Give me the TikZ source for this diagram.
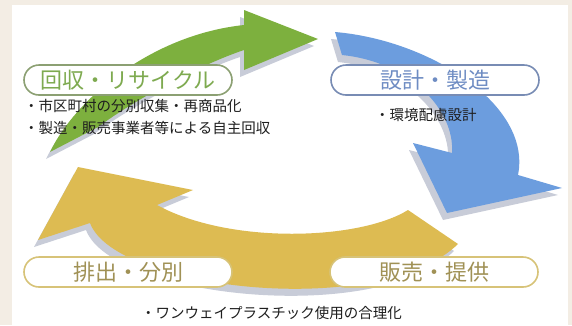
\documentclass[tikz,border=0pt]{standalone}
\usepackage{fontspec}
\newfontfamily\jp{Noto Sans CJK JP}
\definecolor{beige}{RGB}{243,237,228}
\definecolor{shd}{RGB}{200,204,216}
\definecolor{grn}{RGB}{125,176,62}
\definecolor{blu}{RGB}{108,157,222}
\definecolor{ylw}{RGB}{221,187,82}
\definecolor{txtg}{RGB}{126,170,80}
\definecolor{boxg}{RGB}{140,160,115}
\definecolor{txtb}{RGB}{110,140,195}
\definecolor{boxb}{RGB}{120,140,180}
\definecolor{txty}{RGB}{160,145,85}
\definecolor{boxy}{RGB}{215,195,120}
\definecolor{bodyc}{RGB}{30,30,30}
\tikzset{
 greenarrow/.style={insert path={
   (50,152) .. controls (75,100) and (150,35) .. (244,25)
   -- (244,10) -- (318,39) -- (244,70) -- (244,50)
   .. controls (205,63) and (140,96) .. (98,127) -- cycle}},
 bluearrow/.style={insert path={
   (335,32) .. controls (430,40) and (532,105) .. (518,175)
   -- (562,188) -- (447,213) -- (413,143) -- (452,153)
   .. controls (455,110) and (410,62) .. (342,55) -- cycle}},
 yellowarrow/.style={insert path={
   (408,210) .. controls (360,240) and (230,245) .. (157,205)
   -- (193,190) -- (78,167) -- (38,240) -- (90,223)
   .. controls (115,290) and (380,320) .. (458,244) -- cycle}},
 titlebox/.style={draw=#1, line width=1.6pt, fill=white, rounded corners=15pt,
   minimum width=208pt, minimum height=30pt, inner sep=0pt,
   font=\jp\fontsize{22pt}{24pt}\selectfont},
 bodytext/.style={anchor=west, inner sep=0pt, text=bodyc,
   font=\jp\fontsize{14.5pt}{16pt}\selectfont}
}
\begin{document}
\begin{tikzpicture}[x=1pt,y=-1pt]
\useasboundingbox (0,0) rectangle (572,325);
\fill[beige] (0,0) rectangle (572,325);
\fill[white] (12,5) rectangle (568,325);
% shadows
\fill[shd, shift={(-4,7)}, greenarrow];
\fill[shd, shift={(-4,7)}, bluearrow];
\fill[shd, shift={(-4,7)}, yellowarrow];
% arrows
\fill[grn, greenarrow];
\fill[blu, bluearrow];
\fill[ylw, yellowarrow];
% title boxes
\node[titlebox=boxg, text=txtg] (recycle) at (128,80) {回収・リサイクル};
\node[titlebox=boxb, text=txtb] (design) at (435,80) {設計・製造};
\node[titlebox=boxy, text=txty] (discharge) at (128,272) {排出・分別};
\node[titlebox=boxy, text=txty] (sales) at (434,272) {販売・提供};
% body texts
\node[bodytext] (r1) at (24,106) {・市区町村の分別収集・再商品化};
\node[bodytext] (r2) at (24,128) {・製造・販売事業者等による自主回収};
\node[bodytext] (d1) at (375,115) {・環境配慮設計};
\node[bodytext] (s1) at (141,313) {・ワンウェイプラスチック使用の合理化};
\end{tikzpicture}
\end{document}
